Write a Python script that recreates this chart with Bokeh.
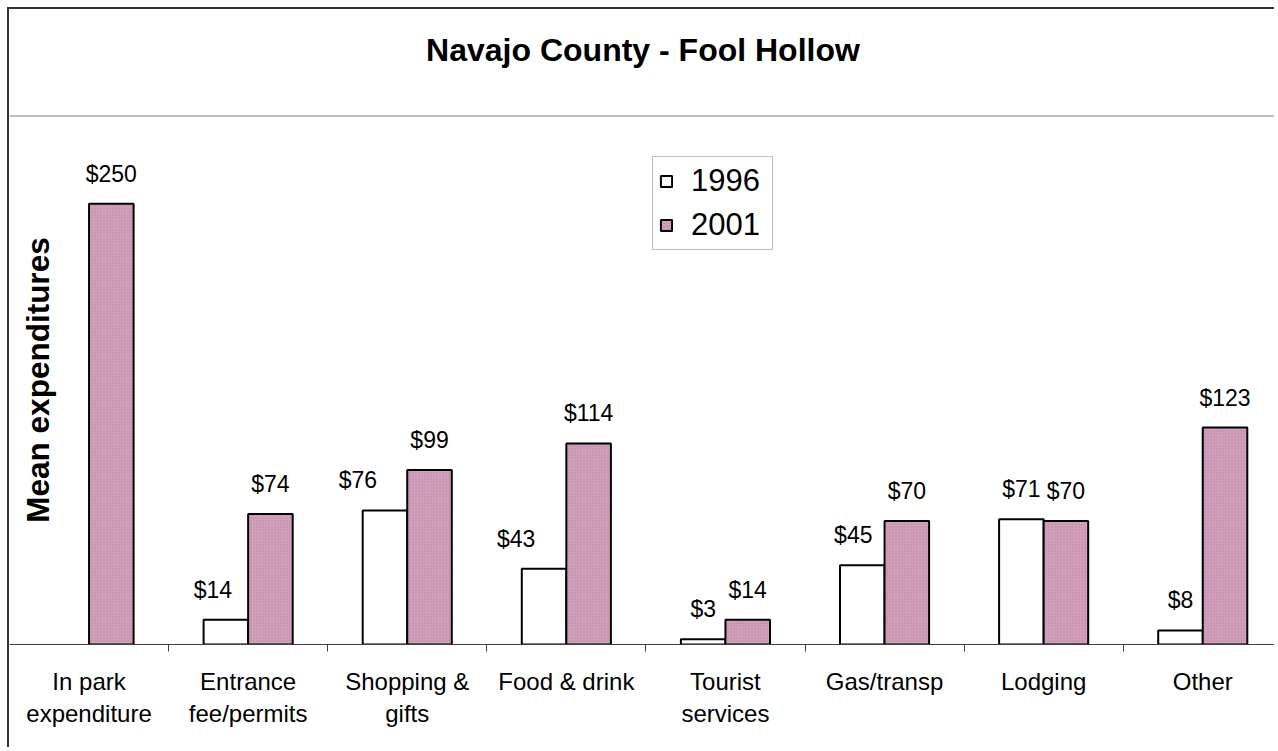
import math
from bokeh.plotting import figure
from bokeh.models import (Range1d, LinearAxis, FixedTicker, ColumnDataSource, Legend,
                          LegendItem, Label, Span, Title)
from bokeh.core.properties import value
from bokeh.embed import file_html
from bokeh.resources import INLINE

# ---------------- data ----------------
categories = ["In park expenditure", "Entrance fee/permits", "Shopping & gifts", "Food & drink",
              "Tourist services", "Gas/transp", "Lodging", "Other"]
tick_labels = ["In park\nexpenditure", "Entrance\nfee/permits", "Shopping &\ngifts", "Food & drink",
               "Tourist\nservices", "Gas/transp", "Lodging", "Other"]
spend_1996 = [float("nan"), 14, 76, 43, 3, 45, 71, 8]
spend_2001 = [250, 74, 99, 114, 14, 70, 70, 123]
series_names = ["1996", "2001"]
chart_title = "Navajo County - Fool Hollow"
y_title = "Mean expenditures"

# ---------------- styling ----------------
FONT = "Liberation Sans"
W, H = 1267, 740
CAT_PX = 159.1          # pixels per category
BAR_W = 0.28
label_dx_1996 = [0, -13, -27, -28, 0, -9, 0, 0]   # label nudges (px), as in the original

n = len(categories)
centers = [i + 0.5 for i in range(n)]

def money(v):
    return "" if v != v else "$%d" % v

src = ColumnDataSource(dict(
    x1996=[c - BAR_W / 2 for c in centers],
    x2001=[c + BAR_W / 2 for c in centers],
    v1996=spend_1996, v2001=spend_2001,
    lab1996=[money(v) for v in spend_1996],
    lab2001=[money(v) for v in spend_2001],
    dx1996=label_dx_1996,
))

p = figure(width=W, height=H, output_backend="svg", toolbar_location=None,
           title_location=None,
           x_range=Range1d(0, W / CAT_PX), y_range=Range1d(0, 300),
           x_axis_location=None, y_axis_location=None,
           min_border_left=0, min_border_right=0, min_border_top=106, min_border_bottom=105)
p.grid.visible = False
p.outline_line_color = None
p.background_fill_color = "white"
p.border_fill_color = "white"
# outer chart border (left & top; the rest is cut off in the original)
p.styles = {"margin-left": "7px", "margin-top": "7px",
            "border-left": "2px solid #333333", "border-top": "2px solid #333333"}

# title area: a blank spacer next to the frame, then the title above it
p.add_layout(Title(text=" ", text_font_size="10px", standoff=35, text_color="white"), "above")
p.add_layout(Title(text=chart_title, align="center", text_font=FONT, text_font_size="32px",
                   text_font_style="bold", text_color="black", standoff=0), "above")

# x axis: labels at category centres, ticks at category boundaries
xaxis = LinearAxis(
    ticker=FixedTicker(ticks=centers, minor_ticks=[float(i) for i in range(1, n)]),
    major_label_overrides={c: t for c, t in zip(centers, tick_labels)},
    axis_line_color="#404040", axis_line_width=1,
    major_tick_in=0, major_tick_out=0, major_tick_line_color=None,
    minor_tick_in=0, minor_tick_out=7, minor_tick_line_color="#404040",
    major_label_standoff=16,
    major_label_text_font=FONT, major_label_text_font_size="24px",
    major_label_text_color="black", major_label_text_line_height=1.2,
)
p.add_layout(xaxis, "below")

# bars
r1 = p.vbar(x="x1996", top="v1996", bottom=0, width=BAR_W, source=src,
            fill_color="white", line_color="black", line_width=2)
r2 = p.vbar(x="x2001", top="v2001", bottom=0, width=BAR_W, source=src,
            fill_color="#d2a0bd", line_color="black", line_width=2,
            hatch_pattern="dot", hatch_color="#a06a88", hatch_scale=3,
            hatch_weight=1, hatch_alpha=0.5)

# value labels
p.text(x="x1996", y="v1996", text="lab1996", x_offset="dx1996", y_offset=-30, source=src,
       text_font=value(FONT), text_font_size="23px", text_align="center",
       text_baseline="middle", text_color="black")
p.text(x="x2001", y="v2001", text="lab2001", y_offset=-30, source=src,
       text_font=value(FONT), text_font_size="23px", text_align="center",
       text_baseline="middle", text_color="black")

# y-axis title inside the plot area
p.add_layout(Label(x=28.5 / CAT_PX, y=150, text=y_title, angle=math.pi / 2,
                   text_align="center", text_baseline="middle",
                   text_font=FONT, text_font_size="31.5px", text_font_style="bold",
                   text_color="black"))

# separator line between title and plot area
p.add_layout(Span(location=300, dimension="width", line_color="#808080", line_width=2))

# legend
legend = Legend(items=[LegendItem(label=series_names[0], renderers=[r1]),
                       LegendItem(label=series_names[1], renderers=[r2])],
                location=(643, 394),
                label_text_font=FONT, label_text_font_size="31px", label_text_color="black",
                glyph_width=14, glyph_height=14, label_standoff=18, label_width=75,
                padding=6, spacing=8, margin=0,
                border_line_color="#808080", border_line_width=1.5,
                background_fill_color="white", background_fill_alpha=1)
p.add_layout(legend, "center")

open("out.html", "w").write(file_html(p, INLINE))
